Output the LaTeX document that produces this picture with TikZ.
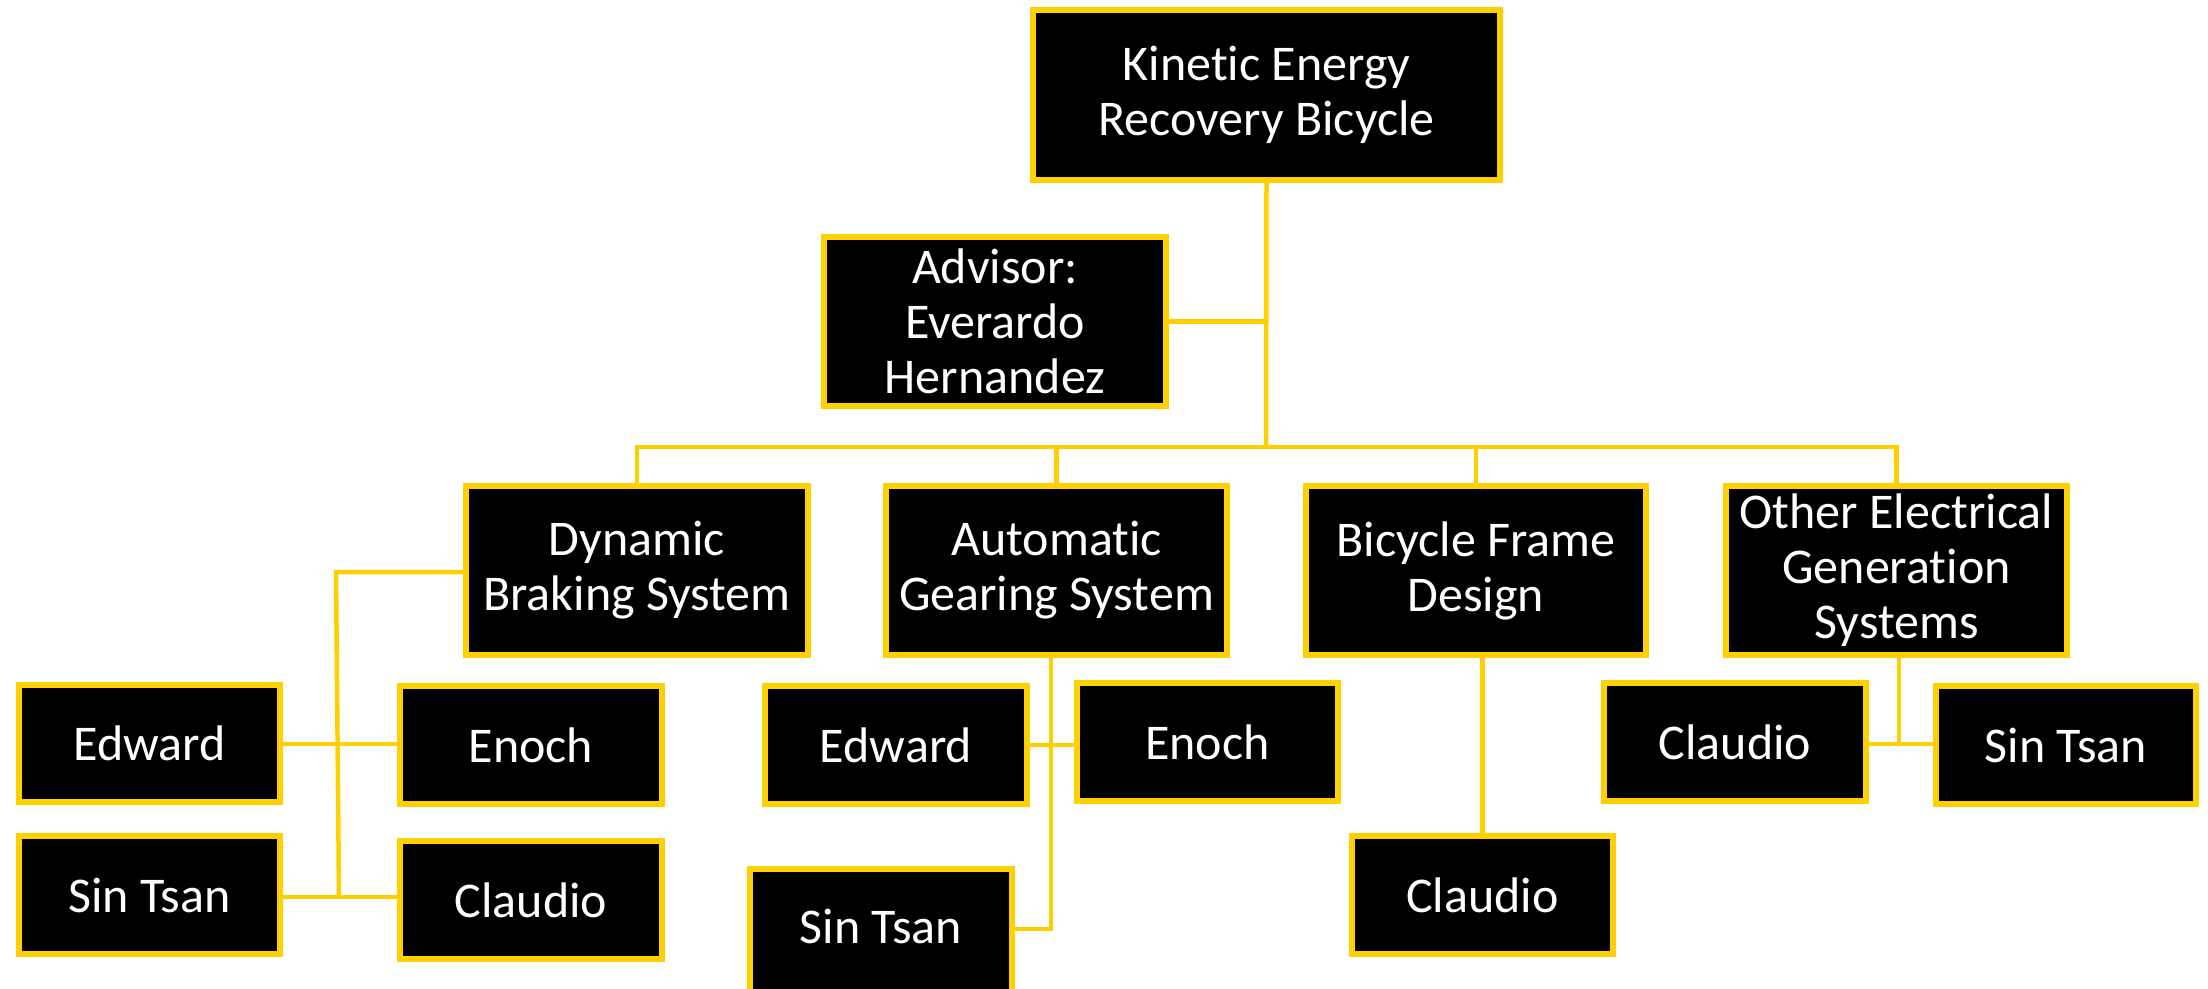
\documentclass[tikz,border=0pt]{standalone}
\usepackage{fontspec}
\setmainfont[Ligatures={NoCommon}]{Carlito}
\definecolor{gold}{RGB}{255,208,0}
\tikzset{
  box/.style={draw=gold, fill=black, line width=5.5pt, text=white, align=center,
    inner sep=0pt, font=\fontsize{50}{55}\selectfont},
  link/.style={draw=gold, line width=4.5pt}
}
\begin{document}
\begin{tikzpicture}[x=1pt,y=-1pt]
\useasboundingbox (0,0) rectangle (2208,988);
% top level
\node[box, minimum width=467pt, minimum height=170pt] (top) at (1266.5,95) {Kinetic Energy\\Recovery Bicycle};
\node[box, minimum width=342pt, minimum height=169pt] (adv) at (995,321.5) {Advisor:\\Everardo\\Hernandez};
% second level
\node[box, minimum width=342pt, minimum height=169pt] (dyn) at (637,570.5) {Dynamic\\Braking System};
\node[box, minimum width=341pt, minimum height=169pt] (aut) at (1056.5,570.5) {Automatic\\Gearing System};
\node[box, minimum width=340pt, minimum height=169pt] (bic) at (1476,570.5) {Bicycle Frame\\Design};
\node[box, minimum width=341pt, minimum height=169pt] (oth) at (1896.5,570.5) {Other Electrical\\Generation\\Systems};
% members
\node[box, minimum width=261pt, minimum height=117pt] (edL) at (149.5,743.5) {Edward};
\node[box, minimum width=262pt, minimum height=118pt] (enL) at (531,745) {Enoch};
\node[box, minimum width=261pt, minimum height=118pt] (stL) at (149.5,895) {Sin Tsan};
\node[box, minimum width=262pt, minimum height=118pt] (clL) at (531,900) {Claudio};
\node[box, minimum width=262pt, minimum height=118pt] (edA) at (896,745) {Edward};
\node[box, minimum width=261pt, minimum height=118pt] (enA) at (1207.5,742) {Enoch};
\node[box, minimum width=262pt, text height=74pt, text depth=59pt, anchor=base] (stA) at (881,943) {Sin Tsan};
\node[box, minimum width=261pt, minimum height=118pt] (clB) at (1482.5,895) {Claudio};
\node[box, minimum width=262pt, minimum height=118pt] (clO) at (1735,742) {Claudio};
\node[box, minimum width=260pt, minimum height=118pt] (stO) at (2066,745) {Sin Tsan};
% connectors
\coordinate (bus) at (1266,447);
\draw[link] (top.south) -- (bus);
\draw[link] (adv.east) -- (adv.east -| top.south);
\draw[link] (dyn.north) |- (bus);
\draw[link] (aut.north) |- (bus);
\draw[link] (bic.north) |- (bus);
\draw[link] (oth.north) |- (bus);
% dynamic braking group
\coordinate (dtop) at (336,572);
\coordinate (dbot) at (339,897);
\draw[link] (dyn.west |- dtop) -- (dtop) -- (dbot);
\draw[link] (edL.east |- 0,744) -- (enL.west |- 0,744);
\draw[link] (stL.east |- dbot) -- (clL.west |- dbot);
% automatic gearing group
\coordinate (abot) at (1051,929);
\draw[link] (aut.south -| abot) -- (abot) -- (stA.east |- abot);
\draw[link] (edA.east |- 0,745) -- (enA.west |- 0,745);
% bicycle frame
\draw[link] (bic.south -| clB.north) -- (clB.north);
% other electrical
\coordinate (obot) at (1899,744);
\draw[link] (oth.south -| obot) -- (obot);
\draw[link] (clO.east |- obot) -- (stO.west |- obot);
\end{tikzpicture}
\end{document}
